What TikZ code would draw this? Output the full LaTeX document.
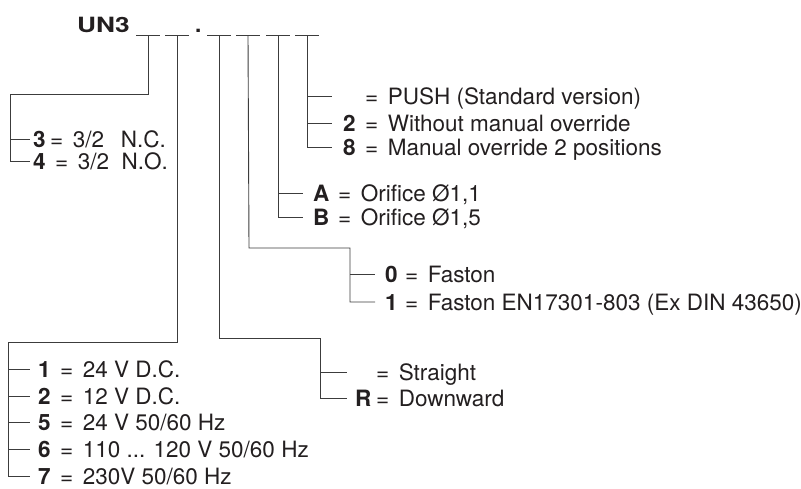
\documentclass[tikz,border=0pt]{standalone}
\usepackage{fontspec}
\setmainfont{TeX Gyre Heros}
\usepackage{graphicx}
\definecolor{txt}{HTML}{231F20}
\definecolor{ln}{HTML}{3C3C3C}
\newcommand{\eqs}{=\hspace{0.42em}}
\tikzset{
  conn/.style={draw=ln, line width=0.9pt},
  keytxt/.style={anchor=base west, inner sep=0pt, font=\fontsize{22.5}{26}\selectfont\bfseries, text=txt},
  desctxt/.style={anchor=base west, inner sep=0pt, text=txt},
}
\begin{document}
\begin{tikzpicture}[x=1pt,y=-1pt,font=\fontsize{22.5}{26}\selectfont]
\useasboundingbox (0,0) rectangle (801,488);
% title
\node[desctxt] (title) at (77,32) {\fontsize{21}{24}\selectfont\scalebox{1.25}[1]{\bfseries UN3}};
\node[desctxt] (dot) at (195,32) {\bfseries .};
\foreach \i/\x in {1/148,2/177,3/219,4/248,5/278,6/307}{
  \coordinate (s\i) at (\x,35);
  \draw[conn] ({\x-12},35) -- ({\x+12},35);
}
% group 1
\draw[conn] (s1) -- (148,94) -- (10.5,94) -- (10.5,161) -- (30,161);
\draw[conn] (10.5,139) -- (30,139);
\node[keytxt] (k3) at (33,147) {3};
\node[desctxt] (d3) at (50,147) {\eqs 3/2\hspace{0.75em}N.C.};
\node[keytxt] (k4) at (33,169) {4};
\node[desctxt] (d4) at (55,169) {\eqs 3/2\hspace{0.56em}N.O.};
% group 2
\draw[conn] (s2) -- (177,342) -- (8.5,342) -- (8.5,476) -- (30,476);
\foreach \y in {369,396,422,449}{ \draw[conn] (8.5,\y) -- (30,\y); }
\node[keytxt] (v1) at (38,377) {1};
\node[desctxt] (w1) at (60,377) {\eqs 24 V D.C.};
\node[keytxt] (v2) at (38,404) {2};
\node[desctxt] (w2) at (60,404) {\eqs 12 V D.C.};
\node[keytxt] (v5) at (38,430) {5};
\node[desctxt] (w5) at (60,430) {\eqs 24 V 50/60 Hz};
\node[keytxt] (v6) at (38,457) {6};
\node[desctxt] (w6) at (60,457) {\eqs 110 ... 120 V 50/60 Hz};
\node[keytxt] (v7) at (38,484) {7};
\node[desctxt] (w7) at (60,484) {\eqs 230V 50/60 Hz};
% group 3
\draw[conn] (s3) -- (219,338) -- (320,338) -- (320,398) -- (347,398);
\draw[conn] (320,372) -- (347,372);
\node[desctxt] (st) at (376,380) {\eqs Straight};
\node[keytxt] (kr) at (355,406) {R};
\node[desctxt] (dr) at (376,406) {\eqs Downward};
% group 4
\draw[conn] (s4) -- (249,248) -- (350,248) -- (350,302) -- (375,302);
\draw[conn] (350,274) -- (375,274);
\node[keytxt] (k0) at (385,282) {0};
\node[desctxt] (f0) at (405,282) {\eqs Faston};
\node[keytxt] (k1) at (385,310) {1};
\node[desctxt] (f1) at (405,310) {\eqs Faston EN17301-803 (Ex DIN 43650)};
% group 5
\draw[conn] (s5) -- (278,217) -- (303,217);
\draw[conn] (278,193) -- (303,193);
\node[keytxt] (ka) at (313,201) {A};
\node[desctxt] (oa) at (338,201) {\eqs Orifice Ø1,1};
\node[keytxt] (kb) at (313,225) {B};
\node[desctxt] (ob) at (338,225) {\eqs Orifice Ø1,5};
% group 6
\draw[conn] (s6) -- (307,147) -- (332,147);
\draw[conn] (307,96) -- (332,96);
\draw[conn] (307,123) -- (332,123);
\node[desctxt] (push) at (365,104) {\eqs PUSH (Standard version)};
\node[keytxt] (k2) at (343,131) {2};
\node[desctxt] (m2) at (365,131) {\eqs Without manual override};
\node[keytxt] (k8) at (343,155) {8};
\node[desctxt] (m8) at (365,155) {\eqs Manual override 2 positions};
\end{tikzpicture}
\end{document}
